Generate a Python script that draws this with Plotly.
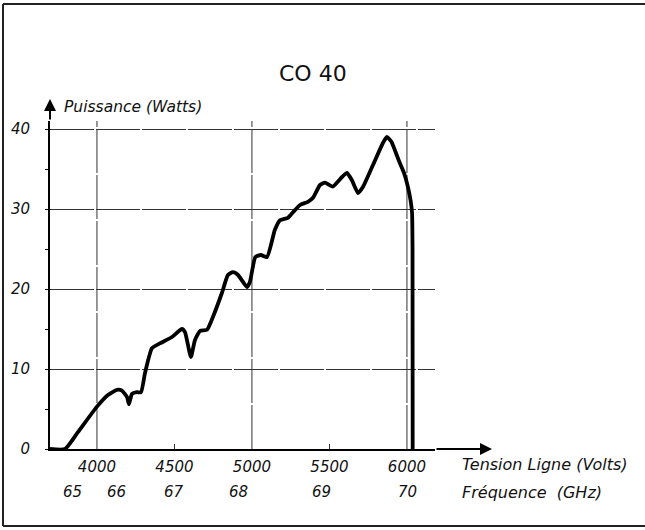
import plotly.graph_objects as go

# ---- data ----
VOLTS = [3697, 3794, 3877, 4000, 4071, 4129, 4161, 4194, 4206, 4226, 4258, 4284,
         4310, 4355, 4406, 4484, 4548, 4568, 4606, 4632, 4665, 4710, 4748, 4806,
         4845, 4877, 4910, 4968, 4987, 5022, 5058, 5097, 5148, 5181, 5232, 5265,
         5310, 5361, 5394, 5439, 5471, 5520, 5581, 5613, 5645, 5684, 5716, 5781,
         5845, 5871, 5900, 5929, 5955, 5983, 6008, 6024, 6033, 6036, 6037]
POWER = [0, 0, 2.1, 5.3, 6.75, 7.4, 7.3, 6.5, 5.6, 6.9, 7.1, 7.1,
         9.5, 12.6, 13.2, 14.0, 15.0, 14.6, 11.5, 13.6, 14.75, 14.9, 16.5, 19.5,
         21.75, 22.1, 21.75, 20.25, 20.9, 24.0, 24.25, 24.0, 27.4, 28.6, 28.9, 29.6,
         30.5, 30.9, 31.4, 33.0, 33.3, 32.8, 34.0, 34.5, 33.6, 32.0, 32.75, 35.5,
         38.25, 39.0, 38.4, 37.0, 35.7, 34.4, 32.6, 31.0, 29.5, 25.0, 0]

VOLT_TICKS = [4000, 4500, 5000, 5500, 6000]
VOLT_TICK_TEXT = ["4000", "4500", "5000", "5500", "6000"]
GRID_X = [4000, 5000, 6000]
POWER_TICKS = [0, 10, 20, 30, 40]
FREQ_POS = [3839, 4129, 4495, 4913, 5447, 6006]
FREQ_TEXT = ["65", "66", "67", "68", "69", "70"]

TITLE = "CO 40"
Y_LABEL = "Puissance (Watts)"
X_LABEL = "Tension Ligne (Volts)"
F_LABEL = "Fréquence  (GHz)"

FONT = "DejaVu Sans"
GRID_DASH = "44px,2px"
GRID_COLOR = "#333"

fig = go.Figure()
fig.add_trace(go.Scatter(
    x=VOLTS, y=POWER, mode="lines",
    line=dict(color="black", width=3.8, shape="spline", smoothing=0.5),
    cliponaxis=False, showlegend=False, hoverinfo="skip"))

for gx in GRID_X:
    fig.add_vline(x=gx, line=dict(color=GRID_COLOR, width=1, dash=GRID_DASH), layer="below")

tick_font = dict(family=FONT, size=15, style="italic", color="#111")

fig.update_layout(
    width=645, height=530,
    margin=dict(l=50, r=210, t=121, b=81),
    paper_bgcolor="white", plot_bgcolor="white",
    title=dict(text=TITLE, font=dict(family=FONT, size=22, color="#111"),
               xref="container", x=0.485, xanchor="center",
               yref="container", y=1 - 73 / 530, yanchor="middle"),
    font=dict(family=FONT, color="#111"),
    xaxis=dict(range=[3697, 6181], tickvals=VOLT_TICKS, ticktext=VOLT_TICK_TEXT,
               showgrid=False, zeroline=False, showline=True, linecolor="black",
               linewidth=2, ticks="", ticklabelstandoff=3, tickfont=tick_font,
               minor=dict(tickvals=[4500, 5500], ticks="inside", ticklen=5,
                          tickcolor="#333", tickwidth=1)),
    yaxis=dict(range=[0, 41], tickvals=POWER_TICKS, showgrid=True,
               gridcolor=GRID_COLOR, gridwidth=1, griddash=GRID_DASH,
               zeroline=False, showline=True, linecolor="black", linewidth=2,
               ticks="", ticklabelstandoff=15, tickfont=tick_font,
               minor=dict(dtick=5, ticks="outside", ticklen=3, tickcolor="black",
                          tickwidth=1)),
)

ann_font = dict(family=FONT, size=16, style="italic", color="#111")
fig.add_annotation(text=Y_LABEL, xref="paper", yref="paper", x=0.03, y=(449 - 107) / 328,
                   xanchor="left", yanchor="middle", showarrow=False,
                   font=dict(family=FONT, size=15.5, style="italic", color="#111"))
fig.add_annotation(text=X_LABEL, xref="paper", yref="paper", x=(460 - 50) / 385,
                   y=(449 - 464) / 328, xanchor="left", yanchor="middle",
                   showarrow=False, font=ann_font)
fig.add_annotation(text=F_LABEL, xref="paper", yref="paper", x=(460 - 50) / 385,
                   y=(449 - 492) / 328, xanchor="left", yanchor="middle",
                   showarrow=False, font=ann_font)
for fx, ft in zip(FREQ_POS, FREQ_TEXT):
    fig.add_annotation(text=ft, xref="x", yref="paper", x=fx, y=(449 - 492) / 328,
                       xanchor="center", yanchor="middle", showarrow=False, font=tick_font)

# axis arrows
fig.add_annotation(text="", xref="paper", yref="paper", x=(492 - 50) / 385, y=0,
                   ax=-57, ay=0, showarrow=True, arrowhead=2, arrowsize=1.2,
                   arrowwidth=2, arrowcolor="black")
fig.add_annotation(text="", xref="paper", yref="paper", x=0, y=(449 - 99) / 328,
                   ax=0, ay=22, showarrow=True, arrowhead=2, arrowsize=1.2,
                   arrowwidth=2, arrowcolor="black")

# frame of the page
def px_x(p):
    return (p - 50) / 385

def px_y(p):
    return (449 - p) / 328

frame = dict(color="#222", width=2)
fig.add_shape(type="line", xref="paper", yref="paper", x0=px_x(3), x1=px_x(645),
              y0=px_y(4), y1=px_y(4), line=frame)
fig.add_shape(type="line", xref="paper", yref="paper", x0=px_x(3), x1=px_x(3),
              y0=px_y(4), y1=px_y(526), line=frame)
fig.add_shape(type="line", xref="paper", yref="paper", x0=px_x(3), x1=px_x(645),
              y0=px_y(526), y1=px_y(526), line=frame)

fig.write_html("out.html")
